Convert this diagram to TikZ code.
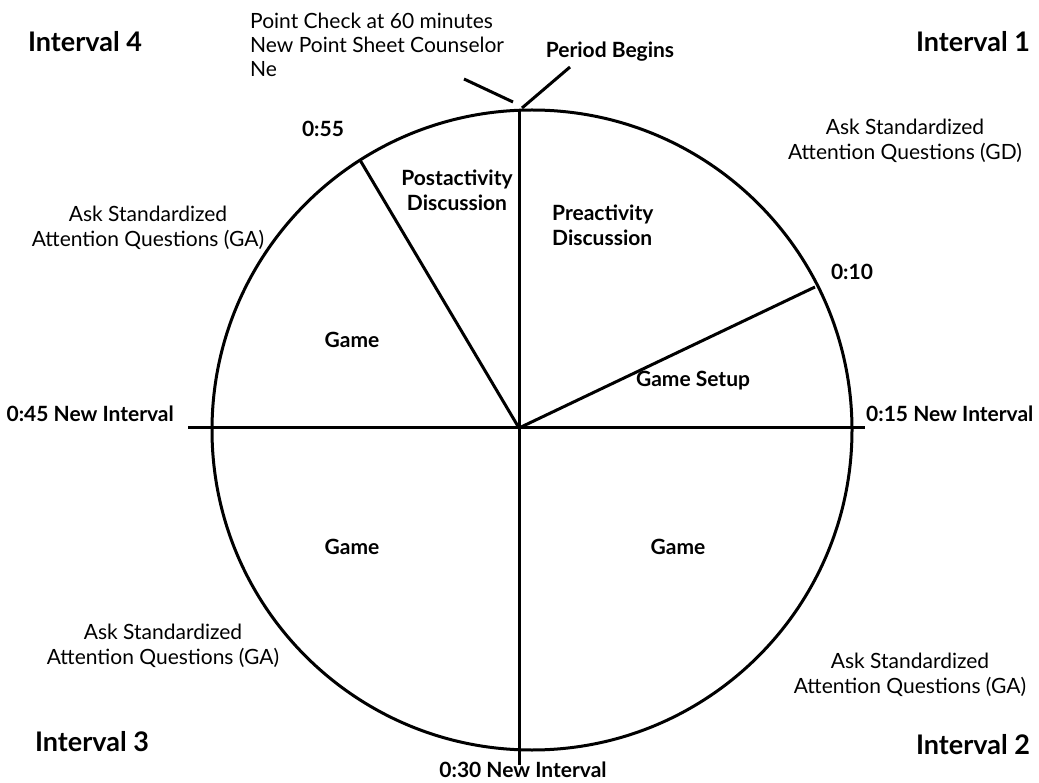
\documentclass[tikz,border=0pt]{standalone}
\usepackage{fontspec}
\setmainfont{Lato}
\usetikzlibrary{positioning}
\tikzset{
  lbl/.style={font=\fontsize{21}{25}\selectfont, align=center, inner sep=0pt},
  bld/.style={font=\fontsize{21}{25}\selectfont\bfseries, align=center, inner sep=0pt},
  intv/.style={font=\fontsize{27}{30}\selectfont\bfseries, inner sep=0pt},
  rim/.style={line width=3pt}
}
\begin{document}
\begin{tikzpicture}[x=1pt,y=-1pt]
\useasboundingbox (0,0) rectangle (1039,783);
\coordinate (o) at (519,428);
\draw[rim] (532,430) circle (320);
\coordinate (top) at (519,110);
\coordinate (bot) at (519,765);
\coordinate (lft) at (188,428);
\coordinate (rgt) at (865,428);
\coordinate (p55) at (360,160);
\coordinate (p10) at (815,287);
\draw[rim] (top) -- (bot);
\draw[rim] (lft) -- (rgt);
\draw[rim] (o) -- (p55);
\draw[rim] (o) -- (p10);
% labels round the edge
\node[intv] (i4) at (85,42) {Interval 4};
\node[intv] (i1) at (973,42) {Interval 1};
\node[intv] (i3) at (92,742) {Interval 3};
\node[intv] (i2) at (973,745) {Interval 2};
\node[lbl, font=\fontsize{21}{24}\selectfont, align=left, anchor=north west] (chk) at (250,13) {Point Check at 60 minutes\\New Point Sheet Counselor\\Ne};
\node[bld] (beg) at (610,52) {Period Begins};
\coordinate (c1) at (522,108);
\coordinate (c2) at (513,102);
\draw[rim] (c1) -- (570,67);
\draw[rim] (c2) -- (464,79);
\node[bld] (t55) at (323,129) {0:55};
\node[bld] (t10) at (852,272) {0:10};
\node[bld, anchor=east] (t45) at (174,414) {0:45 New Interval};
\node[bld, anchor=west] (t15) at (866,414) {0:15 New Interval};
\node[bld] (t30) at (523,770) {0:30 New Interval};
% sectors
\node[bld] (post) at (457,190) {Postactivity\\Discussion};
\node[bld, align=left, anchor=west] (pre) at (552,225) {Preactivity\\Discussion};
\node[bld] (g1) at (352,340) {Game};
\node[bld] (gs) at (693,381) {Game Setup};
\node[bld] (g3) at (352,547) {Game};
\node[bld] (g2) at (678,547) {Game};
% questions
\node[lbl] (q1) at (905,141) {Ask Standardized\\Attention Questions (GD)};
\node[lbl] (q4) at (148,228) {Ask Standardized\\Attention Questions (GA)};
\node[lbl] (q3) at (163,646) {Ask Standardized\\Attention Questions (GA)};
\node[lbl] (q2) at (910,675) {Ask Standardized\\Attention Questions (GA)};
\end{tikzpicture}
\end{document}
